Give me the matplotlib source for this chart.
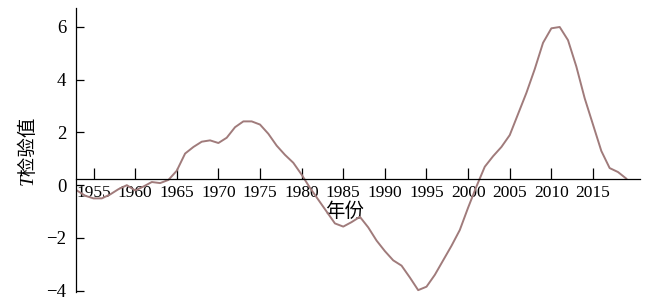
import matplotlib.pyplot as plt

plt.rcParams['font.family'] = ['Liberation Serif', 'Noto Sans CJK SC']

years = list(range(1953, 2020))
t_values = [-0.2, -0.4, -0.5, -0.5, -0.35, -0.15, 0.0, -0.2, -0.05, 0.12,
            0.08, 0.2, 0.55, 1.2, 1.45, 1.65, 1.7, 1.6, 1.8, 2.2,
            2.42, 2.42, 2.3, 1.95, 1.5, 1.15, 0.85, 0.4, -0.1, -0.55,
            -1.0, -1.45, -1.57, -1.4, -1.2, -1.6, -2.1, -2.5, -2.85, -3.05,
            -3.5, -3.98, -3.85, -3.4, -2.85, -2.3, -1.7, -0.85, -0.05, 0.7,
            1.1, 1.45, 1.9, 2.7, 3.5, 4.4, 5.4, 5.95, 6.0, 5.5,
            4.5, 3.3, 2.3, 1.3, 0.65, 0.5, 0.25]
xticks = list(range(1955, 2020, 5))
yticks = [-4, -2, 0, 2, 4, 6]

fig = plt.figure(figsize=(6.5, 3.08), dpi=100)
ax = fig.add_axes([0.117, 0.052, 0.867, 0.922])

ax.plot(years, t_values, color='#a07b7b', lw=1.4, solid_joinstyle='round')

ax.set_xlim(1952.9, 2020.6)
ax.set_ylim(-4.05, 6.72)
ax.spines['top'].set_visible(False)
ax.spines['right'].set_visible(False)
ax.spines['bottom'].set_position(('data', 0.22))
for s in ['left', 'bottom']:
    ax.spines[s].set_linewidth(0.9)

ax.set_xticks(xticks)
ax.set_yticks(yticks)
ax.set_yticklabels(['\u22124', '\u22122', '0', '2', '4', '6'])
ax.tick_params(axis='x', direction='in', length=8, width=0.9, pad=4, labelsize=12.5)
ax.tick_params(axis='y', direction='in', length=6, width=0.9, pad=7, labelsize=13.5)

ax.set_xlabel('年份', fontsize=14)
ax.xaxis.set_label_coords(0.477, 0.315)
ax.set_ylabel('T检验值', fontsize=14, fontstyle='italic')
ax.yaxis.set_label_coords(-0.069, 0.5)

fig.savefig('out.png', dpi=100)
